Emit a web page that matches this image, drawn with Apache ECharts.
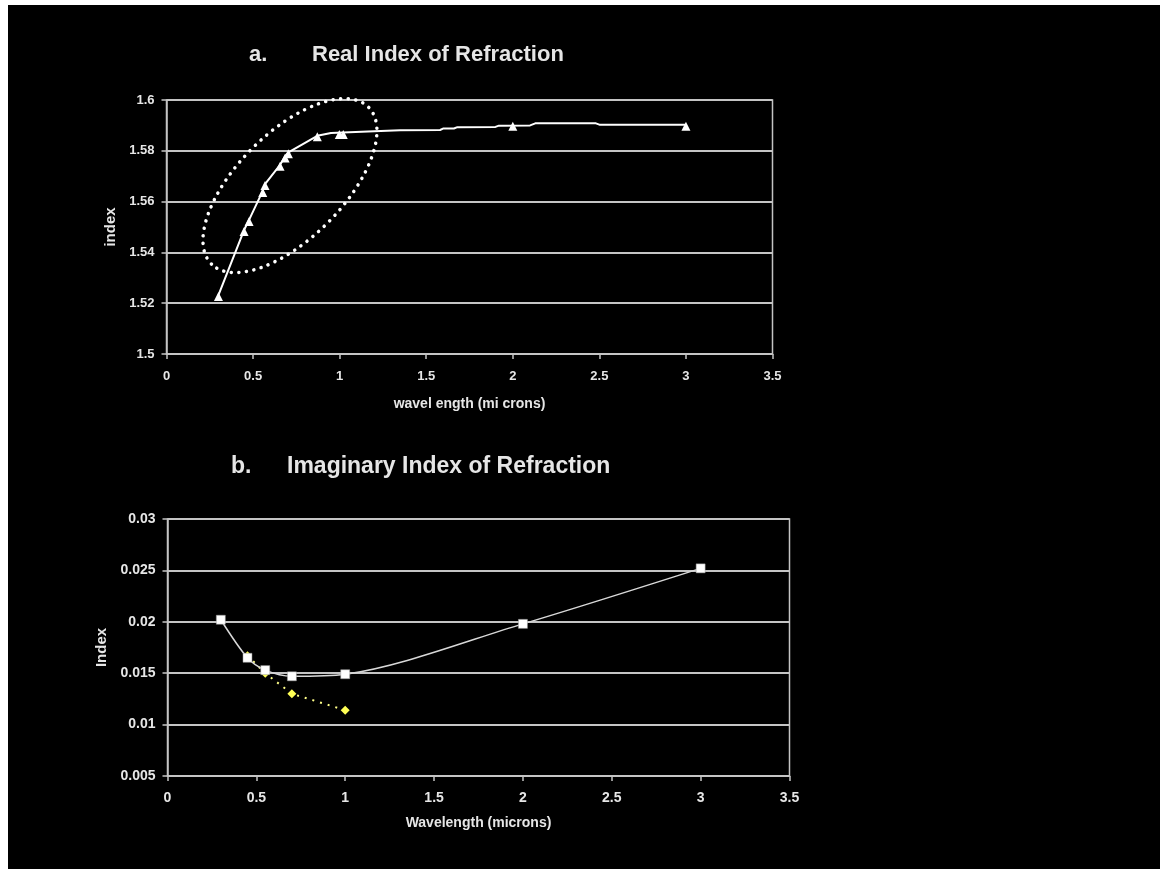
<!DOCTYPE html>
<html>
<head>
<meta charset="utf-8">
<script src="https://cdn.jsdelivr.net/npm/echarts@6/dist/echarts.min.js"></script>
<style>
html,body{margin:0;padding:0;background:#fff;}
#c{width:1160px;height:869px;}
</style>
</head>
<body>
<div id="c"></div>
<script>
// ---- Chart a: Real index of refraction ----
var realMarkerX = [0.3, 0.448, 0.477, 0.556, 0.569, 0.656, 0.685, 0.704, 0.871, 0.998, 1.021, 2.0, 3.0];
var realMarkerY = [1.5226, 1.5482, 1.5522, 1.5636, 1.5663, 1.5739, 1.5772, 1.5788, 1.5855, 1.5864, 1.5864, 1.5897, 1.5897];
var realLineX = [0.3, 0.448, 0.477, 0.556, 0.569, 0.656, 0.685, 0.704, 0.871, 0.95, 1.02, 1.2, 1.35, 1.58, 1.6, 1.66, 1.68, 1.9, 1.92, 2.1, 2.13, 2.48, 2.5, 3.0];
var realLineY = [1.5232, 1.5488, 1.5528, 1.5642, 1.5669, 1.5745, 1.5778, 1.5794, 1.5859, 1.5870, 1.5872, 1.5877, 1.5881, 1.5882, 1.5888, 1.5888, 1.5893, 1.5894, 1.5899, 1.5900, 1.5908, 1.5908, 1.5903, 1.5903];
// ellipse annotation centre (data units)
var ellipseCenter = [0.713, 1.5663];

// ---- Chart b: Imaginary index of refraction ----
var imagX = [0.3, 0.45, 0.55, 0.7, 1.0, 2.0, 3.0];
var imagY = [0.0202, 0.0165, 0.0153, 0.0147, 0.0149, 0.0198, 0.0252];
var imagAltX = [0.45, 0.55, 0.7, 1.0];
var imagAltY = [0.0167, 0.0150, 0.0130, 0.0114];

var xTicksMin = 0, xTicksMax = 3.5, xTicksStep = 0.5;
var realYMin = 1.5, realYMax = 1.6, realYStep = 0.02;
var imagYMin = 0.005, imagYMax = 0.03, imagYStep = 0.005;

function pairs(xs, ys){ return xs.map(function(x,i){ return [x, ys[i]]; }); }

var txt = '#e6e6e6';
var gridCol = '#c4c4c4';
var F = 'Liberation Sans, Arial, sans-serif';

function xAxis(gi, name, nameSize, nameGap, labSize, margin){
  return {
    type:'value', gridIndex:gi, min:xTicksMin, max:xTicksMax, interval:xTicksStep,
    name:name, nameLocation:'middle', nameGap:nameGap,
    nameTextStyle:{color:txt, fontFamily:F, fontWeight:'bold', fontSize:nameSize},
    axisLine:{show:true, lineStyle:{color:gridCol, width:1.5}},
    axisTick:{show:true, inside:false, length:5, lineStyle:{color:gridCol, width:1.5}},
    axisLabel:{color:txt, fontFamily:F, fontWeight:'bold', fontSize:labSize, margin:margin},
    splitLine:{show:false}
  };
}
function yAxis(gi, name, min, max, step, nameSize, nameGap, labSize, margin){
  return {
    type:'value', gridIndex:gi, min:min, max:max, interval:step,
    name:name, nameLocation:'middle', nameGap:nameGap,
    nameTextStyle:{color:txt, fontFamily:F, fontWeight:'bold', fontSize:nameSize},
    axisLine:{show:true, lineStyle:{color:gridCol, width:1.5}},
    axisTick:{show:true, inside:false, length:5, lineStyle:{color:gridCol, width:1.5}},
    axisLabel:{color:txt, fontFamily:F, fontWeight:'bold', fontSize:labSize, margin:margin},
    splitLine:{show:true, lineStyle:{color:gridCol, width:2}}
  };
}

var chart = echarts.init(document.getElementById('c'));
var option = {
  backgroundColor:'#000',
  animation:false,
  grid:[
    {left:166.5, top:100, width:606, height:254, show:true, borderColor:gridCol, borderWidth:1.5, containLabel:false},
    {left:167.5, top:519, width:622, height:257, show:true, borderColor:gridCol, borderWidth:1.5, containLabel:false}
  ],
  xAxis:[ xAxis(0,'wavel ength (mi crons)',14,43,13,16), xAxis(1,'Wavelength (microns)',14,40,14,15) ],
  yAxis:[ yAxis(0,'index',realYMin,realYMax,realYStep,15,42,13,12), yAxis(1,'Index',imagYMin,imagYMax,imagYStep,15,58,14,12) ],
  series:[
    {type:'line', xAxisIndex:0, yAxisIndex:0, data:pairs(realLineX, realLineY), showSymbol:false, symbol:'none',
     lineStyle:{color:'#ffffff', width:2}, z:3},
    {type:'scatter', xAxisIndex:0, yAxisIndex:0, data:pairs(realMarkerX, realMarkerY), symbol:'triangle', symbolSize:9,
     itemStyle:{color:'#ffffff', opacity:1}, z:4},
    {type:'line', xAxisIndex:1, yAxisIndex:1, data:pairs(imagAltX, imagAltY), symbol:'diamond', symbolSize:9,
     itemStyle:{color:'#ffff55'}, lineStyle:{color:'#ffff88', width:2, type:[2,6]}, z:3},
    {type:'line', xAxisIndex:1, yAxisIndex:1, data:pairs(imagX, imagY), smooth:0.3, symbol:'rect', symbolSize:9,
     itemStyle:{color:'#ffffff', borderColor:'#999', borderWidth:0.5}, lineStyle:{color:'#d8d8d8', width:1.5}, z:4}
  ]
};
chart.setOption(option);
var cp = chart.convertToPixel({xAxisIndex:0, yAxisIndex:0}, ellipseCenter);
chart.setOption({graphic:[
  {type:'rect', shape:{x:0,y:0,width:8,height:869}, style:{fill:'#fff'}, z:100},
  {type:'rect', shape:{x:0,y:0,width:1160,height:5}, style:{fill:'#fff'}, z:100},
  {type:'text', left:249, top:44, style:{text:'a.', fill:txt, font:'bold 22px '+F}},
  {type:'text', left:312, top:44, style:{text:'Real Index of Refraction', fill:txt, font:'bold 22px '+F}},
  {type:'text', left:231, top:455, style:{text:'b.', fill:txt, font:'bold 23px '+F}},
  {type:'text', left:287, top:455, style:{text:'Imaginary Index of Refraction', fill:txt, font:'bold 23px '+F}},
  {type:'ellipse', x:cp[0], y:cp[1], rotation:Math.PI/4, shape:{cx:0, cy:0, rx:111, ry:53},
   style:{fill:null, stroke:'#ffffff', lineWidth:3.5, lineDash:[0.1,7.5], lineCap:'round'}, z:50}
]});
</script>
</body>
</html>
